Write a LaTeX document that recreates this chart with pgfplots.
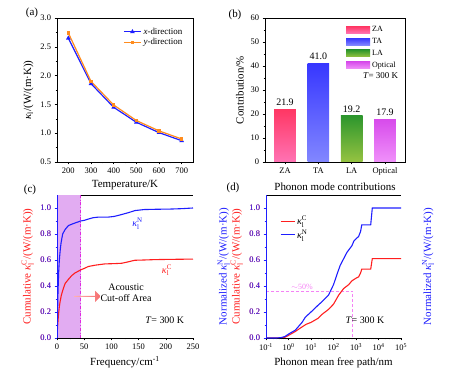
\documentclass[border=0pt]{standalone}
\usepackage{fontspec}
\setmainfont{Liberation Serif}
\usepackage{pgfplots}
\pgfplotsset{compat=1.18}
\usetikzlibrary{shapes.arrows}
\definecolor{cred}{RGB}{255,30,30}
\definecolor{cblue}{RGB}{30,30,255}
\definecolor{corange}{RGB}{255,140,30}
\definecolor{cshade}{RGB}{226,172,242}
\definecolor{cmag}{RGB}{225,40,225}
\definecolor{cmagl}{RGB}{245,130,245}
\newcommand{\kl}[1]{\textit{κ}$_{\mathrm{l}}^{\mathrm{#1}}$}
\tikzset{onedec/.style={/pgf/number format/fixed, /pgf/number format/fixed zerofill, /pgf/number format/precision=1}}
\pgfplotsset{
  myax/.style={scale only axis, tick align=outside,
    major tick length=2.5pt, minor tick length=1.5pt,
    every tick/.style={line width=0.5pt},
    axis line style={line width=0.6pt},
    tick label style={font=\fontsize{8.5}{9}\selectfont},
    label style={font=\fontsize{11}{12}\selectfont},
    /pgf/number format/assume math mode=true,
    xtick pos=bottom, ytick pos=left}
}
\begin{document}
\begin{tikzpicture}
\useasboundingbox (0,0) rectangle (451bp,386bp);
% (a)
\node[font=\fontsize{11}{12}\selectfont] at (32bp,373bp) {(a)};
\begin{axis}[myax, at={(57bp,224bp)}, anchor=south west, width=136bp, height=144bp,
  xmin=150, xmax=750, ymin=0.5, ymax=3.0,
  xtick={200,300,...,700}, minor x tick num=1,
  ytick={0.5,1.0,1.5,2.0,2.5,3.0}, minor y tick num=1,
  yticklabel style={onedec},
  xlabel={Temperature/K},
  ylabel={\textit{κ}\textsubscript{l}/(W/(m·K))},
  legend style={draw=none, fill=none, at={(0.96,0.96)}, anchor=north east,
    font=\fontsize{9}{10}\selectfont, row sep=-1pt},
  legend cell align=left]
\addplot[cblue, line width=1.2pt, mark=triangle*, mark size=1.5pt] coordinates {
 (200,2.65) (300,1.86) (400,1.45) (500,1.19) (600,1.01) (700,0.87)};
\addlegendentry{\textit{x}-direction}
\addplot[corange, line width=1.2pt, mark=square*, mark size=1.2pt] coordinates {
 (200,2.74) (300,1.90) (400,1.49) (500,1.22) (600,1.04) (700,0.90)};
\addlegendentry{\textit{y}-direction}
\end{axis}
% (b)
\node[font=\fontsize{11}{12}\selectfont] at (235bp,371bp) {(b)};
\begin{axis}[myax, at={(265bp,224bp)}, anchor=south west, width=140bp, height=144bp,
  xmin=-0.6, xmax=3.6, ymin=0, ymax=60,
  xtick={0,1,2,3}, xticklabels={ZA,TA,LA,Optical},
  ytick={0,10,...,60}, minor y tick num=1,
  xlabel={Phonon mode contributions}, ylabel={Contribution/\%},
  nodes near coords, nodes near coords style={font=\fontsize{10}{11}\selectfont, onedec, text=black},
  legend style={draw=none, fill=none, at={(0.97,0.97)}, anchor=north east,
    font=\fontsize{8}{9}\selectfont, row sep=1pt},
  legend cell align=left,
  legend image code/.code={\fill[#1] (0bp,-3.5bp) rectangle (24bp,3.5bp);}]
\addplot[ybar, bar width=0.65, bar shift=0pt, draw=none, top color={rgb,255:red,255;green,55;blue,100}, bottom color={rgb,255:red,255;green,115;blue,180}] coordinates {(0,21.9)};
\addlegendentry{ZA}
\addplot[ybar, bar width=0.65, bar shift=0pt, draw=none, top color={rgb,255:red,55;green,55;blue,255}, bottom color={rgb,255:red,130;green,135;blue,255}] coordinates {(1,41.0)};
\addlegendentry{TA}
\addplot[ybar, bar width=0.65, bar shift=0pt, draw=none, top color={rgb,255:red,45;green,150;blue,45}, bottom color={rgb,255:red,150;green,195;blue,65}] coordinates {(2,19.2)};
\addlegendentry{LA}
\addplot[ybar, bar width=0.65, bar shift=0pt, draw=none, top color={rgb,255:red,215;green,75;blue,235}, bottom color={rgb,255:red,240;green,145;blue,250}] coordinates {(3,17.9)};
\addlegendentry{Optical}
\node[font=\fontsize{9}{10}\selectfont, anchor=east] at (axis cs:3.5,36) {\textit{T}= 300 K};
\end{axis}
% (c)
\node[font=\fontsize{11}{12}\selectfont] at (30bp,196bp) {(c)};
\begin{axis}[myax, at={(57bp,48bp)}, anchor=south west, width=136bp, height=143bp,
  xmin=0, xmax=250, ymin=0, ymax=1.1,
  axis x line*=box, axis y line*=left, xtick pos=bottom,
  y axis line style={draw=cred, line width=0.8pt},
  ytick style={cred},
  xtick={0,50,...,250}, minor x tick num=1,
  ytick={0,0.2,0.4,0.6,0.8,1.0}, minor y tick num=1,
  yticklabel style={onedec, text=cred},
  xlabel={Frequency/cm\textsuperscript{-1}},
  ylabel={Cumulative \kl{C}/(W/(m·K))}, ylabel style={text=cred}]
\addplot[draw=none, fill=cshade] coordinates {(0,0) (0,1.1) (43.5,1.1) (43.5,0)} -- cycle;
\addplot[cmag, dash dot, line width=0.8pt] coordinates {(43.5,0) (43.5,1.1)};
\addplot[cred, line width=1.1pt] coordinates {
 (0,0) (1,0.08) (2,0.14) (3,0.19) (4,0.23) (5.5,0.275) (8,0.33) (11.6,0.38) (15,0.42) (20.8,0.45) (27,0.48) (33,0.50) (43.5,0.524) (50,0.535) (57.6,0.55) (70,0.56) (88,0.57) (105,0.572) (119,0.575) (130,0.585) (143,0.598) (160,0.60) (180,0.603) (210,0.605) (250,0.607)};
\node[single arrow, minimum height=26bp, minimum width=11bp, single arrow head extend=2.5bp, inner sep=0pt,
  left color={rgb,255:red,255;green,175;blue,175}, right color={rgb,255:red,245;green,110;blue,110}, draw=none] at (axis cs:56,0.32) {};
\node[font=\fontsize{10}{11}\selectfont, align=center] at (axis cs:127,0.35) {Acoustic\\Cut-off Area};
\node[font=\fontsize{10}{11}\selectfont] at (axis cs:198,0.14) {\textit{T}= 300 K};
\node[font=\fontsize{10}{11}\selectfont, text=cblue] at (axis cs:148,0.88) {\kl{N}};
\node[font=\fontsize{10}{11}\selectfont, text=cred] at (axis cs:202,0.52) {\kl{C}};
\end{axis}
\begin{axis}[myax, at={(57bp,48bp)}, anchor=south west, width=136bp, height=143bp,
  xmin=0, xmax=250, ymin=0, ymax=1.1,
  axis x line=none, axis y line*=right,
  y axis line style={draw=cblue, line width=0.8pt},
  ytick style={cblue},
  ytick={0,0.2,0.4,0.6,0.8,1.0}, minor y tick num=1,
  yticklabel style={onedec, text=cblue},
  ylabel={Normalized \kl{N}/(W/(m·K))},
  ylabel style={text=cblue, at={(axis description cs:1.225,0.5)}, anchor=center}]
\addplot[cblue, line width=1.1pt] coordinates {
 (0,0) (0.8,0.15) (1.8,0.35) (3,0.5) (4.3,0.6) (6,0.68) (7.4,0.73) (10.4,0.80) (15,0.835) (21,0.865) (30,0.88) (43.5,0.9) (50,0.905) (57.6,0.915) (66,0.925) (76,0.93) (94,0.93) (105,0.935) (119,0.95) (132,0.965) (143,0.98) (160,0.988) (180,0.99) (210,0.992) (230,0.995) (250,1.0)};
\end{axis}
% (d)
\node[font=\fontsize{11}{12}\selectfont] at (233bp,198bp) {(d)};
\begin{axis}[myax, at={(266bp,48bp)}, anchor=south west, width=135bp, height=143bp,
  xmode=log, xmin=0.1, xmax=1e5, ymin=0, ymax=1.1,
  axis x line*=box, axis y line*=left, xtick pos=bottom,
  y axis line style={draw=cred, line width=0.8pt},
  ytick style={cred},
  xtick={0.1,1,10,100,1000,10000,100000},
  xticklabels={10\textsuperscript{-1},10\textsuperscript{0},10\textsuperscript{1},10\textsuperscript{2},10\textsuperscript{3},10\textsuperscript{4},10\textsuperscript{5}},
  minor xtick={},
  ytick={0,0.2,0.4,0.6,0.8,1.0}, minor y tick num=1,
  yticklabel style={onedec, text=cred},
  xlabel={Phonon mean free path/nm},
  ylabel={Cumulative \kl{C}/(W/(m·K))}, ylabel style={text=cred}]
\addplot[cmagl, densely dashed, line width=0.8pt] coordinates {(0.1,0.36) (700,0.36) (700,0)};
\node[font=\fontsize{8}{9}\selectfont, text=cmagl] at (axis cs:4,0.39) {$\sim$50\%};
\addplot[cred, line width=1.1pt] coordinates {
 (0.1,0) (0.3,0) (0.5,0.002) (0.7,0.006) (1,0.02) (2,0.05) (4,0.085) (6,0.105) (10,0.12) (20,0.15) (30,0.18) (60,0.22) (100,0.26) (170,0.33) (280,0.38) (470,0.41) (660,0.44) (1000,0.46) (1300,0.47) (1600,0.50) (1800,0.53) (4500,0.53) (5300,0.61) (100000,0.61)};
\node[font=\fontsize{10}{11}\selectfont] at (axis cs:2500,0.14) {\textit{T}= 300 K};
\end{axis}
\begin{axis}[myax, at={(266bp,48bp)}, anchor=south west, width=135bp, height=143bp,
  xmode=log, xmin=0.1, xmax=1e5, ymin=0, ymax=1.1,
  axis x line=none, axis y line*=right,
  y axis line style={draw=cblue, line width=0.8pt},
  ytick style={cblue},
  ytick={0,0.2,0.4,0.6,0.8,1.0}, minor y tick num=1,
  yticklabel style={onedec, text=cblue},
  ylabel={Normalized \kl{N}/(W/(m·K))},
  ylabel style={text=cblue, at={(axis description cs:1.2,0.5)}, anchor=center},
  legend style={draw=none, fill=none, at={(0.08,0.88)}, anchor=north west,
    font=\fontsize{10}{11}\selectfont, row sep=0pt},
  legend cell align=left,
  legend image code/.code={\draw[#1] (0bp,0bp) -- (14bp,0bp);}]
\addlegendimage{cred, line width=1.1pt}
\addlegendentry{\kl{C}}
\addplot[cblue, line width=1.1pt] coordinates {
 (0.1,0) (0.3,0) (0.5,0.004) (0.7,0.012) (1,0.03) (2,0.06) (4,0.12) (5.6,0.16) (10,0.2) (20,0.25) (31,0.28) (60,0.33) (100,0.41) (150,0.5) (200,0.56) (400,0.66) (660,0.71) (800,0.745) (1100,0.77) (1300,0.78) (1600,0.82) (1800,0.87) (4500,0.87) (5300,1.0) (100000,1.0)};
\addlegendentry{\kl{N}}
\end{axis}
\end{tikzpicture}
\end{document}
